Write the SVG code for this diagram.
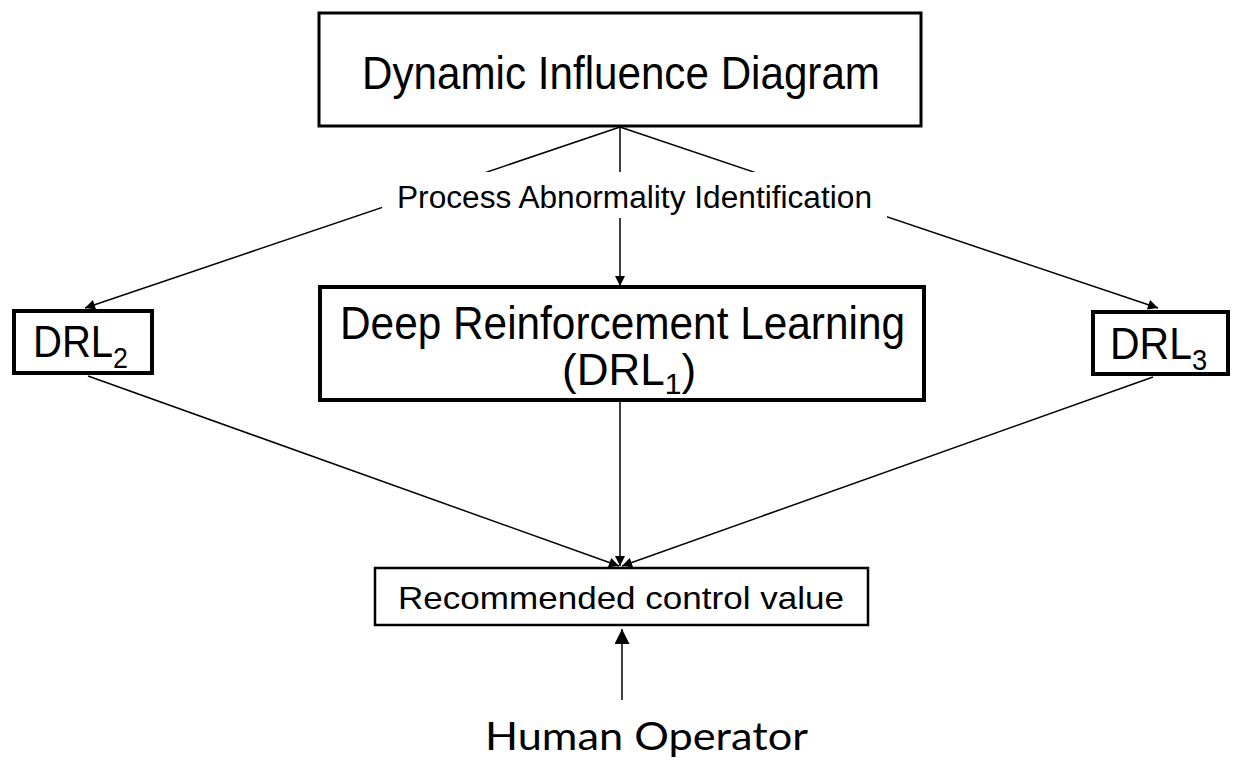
<svg xmlns="http://www.w3.org/2000/svg" width="1237" height="771" viewBox="0 0 1237 771">
<style>
.box{fill:#fff;stroke:#000}
.t{font-family:"Liberation Sans",Arial,sans-serif;fill:#000}
.c{stroke:#000;stroke-width:1.5;fill:none}
</style>
<defs>
<marker id="ah" viewBox="0 0 10 10" refX="10" refY="5" markerWidth="11" markerHeight="10" markerUnits="userSpaceOnUse" orient="auto">
<path d="M0,0 L10,5 L0,10 z" fill="#000"/>
</marker>
<marker id="ahL" viewBox="0 0 10 10" refX="10" refY="5" markerWidth="15" markerHeight="15" markerUnits="userSpaceOnUse" orient="auto">
<path d="M0,0 L10,5 L0,10 z" fill="#000"/>
</marker>
</defs>
<rect width="1237" height="771" fill="#fff"/>
<g id="connectors">
<line class="c" x1="620" y1="127" x2="85" y2="308" marker-end="url(#ah)"/>
<line class="c" x1="620" y1="127" x2="1158" y2="308" marker-end="url(#ah)"/>
<line class="c" x1="620" y1="127" x2="620" y2="286" marker-end="url(#ah)"/>
<line class="c" x1="88" y1="376" x2="619" y2="566" marker-end="url(#ah)"/>
<line class="c" x1="620" y1="401" x2="620" y2="566" marker-end="url(#ah)"/>
<line class="c" x1="1153" y1="377" x2="622" y2="566" marker-end="url(#ah)"/>
<line class="c" x1="622" y1="700" x2="622" y2="629" marker-end="url(#ahL)"/>
</g>
<g id="label-process">
<rect x="382" y="172" width="505" height="46" fill="#fff"/>
<text class="t" x="397" y="208" font-size="31" textLength="475" lengthAdjust="spacingAndGlyphs">Process Abnormality Identification</text>
</g>
<g id="node-did">
<rect class="box" x="319" y="13" width="602" height="113" stroke-width="3"/>
<text class="t" x="362" y="89" font-size="46" textLength="518" lengthAdjust="spacingAndGlyphs">Dynamic Influence Diagram</text>
</g>
<g id="node-drl1">
<rect class="box" x="320" y="287" width="604" height="113" stroke-width="4"/>
<text class="t" font-size="46"><tspan x="340" y="339" textLength="565" lengthAdjust="spacingAndGlyphs">Deep Reinforcement Learning</tspan><tspan x="562" y="385" font-size="44">(DRL</tspan><tspan font-size="30" dy="9">1</tspan><tspan font-size="44" dy="-9">)</tspan></text>
</g>
<g id="node-drl2">
<rect class="box" x="14" y="311" width="138" height="62" stroke-width="4"/>
<text class="t" transform="translate(33,357) scale(0.89,1)" font-size="45">DRL<tspan font-size="30" dy="11">2</tspan></text>
</g>
<g id="node-drl3">
<rect class="box" x="1093" y="312" width="135" height="62" stroke-width="4"/>
<text class="t" transform="translate(1110,359) scale(0.91,1)" font-size="45">DRL<tspan font-size="30" dy="11">3</tspan></text>
</g>
<g id="node-rcv">
<rect class="box" x="375" y="568" width="493" height="57" stroke-width="2.5"/>
<text class="t" x="398" y="609" font-size="32" textLength="446" lengthAdjust="spacingAndGlyphs">Recommended control value</text>
</g>
<g id="node-human">
<text x="485" y="750" font-family="Lato,'Open Sans',sans-serif" font-size="39" textLength="323" lengthAdjust="spacingAndGlyphs" fill="#000">Human Operator</text>
</g>
</svg>
